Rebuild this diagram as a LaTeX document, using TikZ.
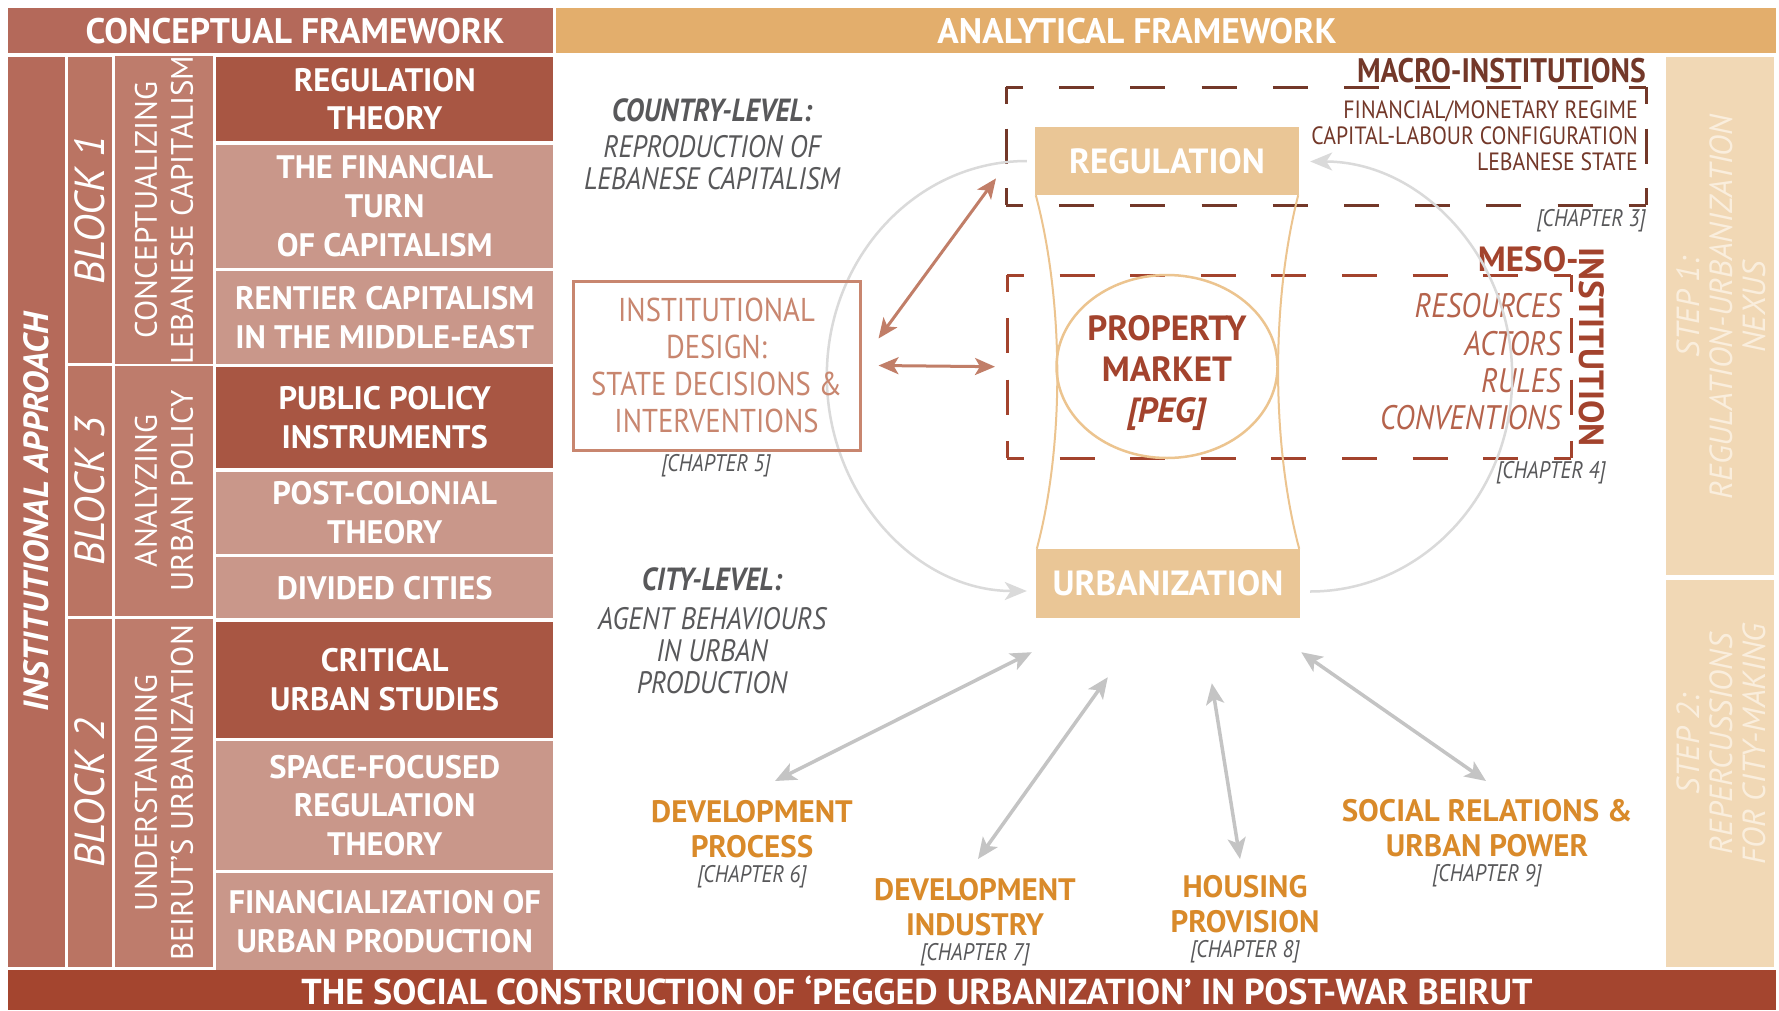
\documentclass[tikz,border=0pt]{standalone}
\usepackage{fontspec}
\setmainfont{PT Sans}
\newfontfamily\narrowfont{PT Sans}[FakeStretch=0.87]
\usepackage{tikz}
\usetikzlibrary{positioning}
\usetikzlibrary{arrows.meta}
\usetikzlibrary{shapes.geometric}

\definecolor{brickhead}{HTML}{B4695A}
\definecolor{brickcol}{HTML}{B56A5A}
\definecolor{brickblock}{HTML}{BA7463}
\definecolor{bricktheme}{HTML}{BE7C6C}
\definecolor{brickdark}{HTML}{A85643}
\definecolor{bricklight}{HTML}{C9978A}
\definecolor{barred}{HTML}{A4452F}
\definecolor{tanhead}{HTML}{E3AE6C}
\definecolor{tanbox}{HTML}{EAC696}
\definecolor{tanstep}{HTML}{F1D8B5}
\definecolor{steptext}{HTML}{FAEEDD}
\definecolor{macrobrown}{HTML}{733829}
\definecolor{mesored}{HTML}{A3432D}
\definecolor{mesolist}{HTML}{B5634C}
\definecolor{salmon}{HTML}{C8866F}
\definecolor{salmonarrow}{HTML}{C17E68}
\definecolor{greytext}{HTML}{58585A}
\definecolor{orangelab}{HTML}{D98A2A}
\definecolor{arrowgrey}{HTML}{C4C4C4}
\definecolor{arcgrey}{HTML}{DADADA}
\definecolor{hourglass}{HTML}{ECC48F}

\begin{document}
\begin{tikzpicture}[x=1pt, y=-1pt,
        every node/.style={inner sep=0pt, align=center},
        bar/.style={rectangle, anchor=north west},
        bartext/.style={text=white, font=\fontsize{35.5}{38}\selectfont\bfseries},
        col/.style={rectangle, rotate=90, text=white},
        approach/.style={col, fill=brickcol, minimum height=57, font=\fontsize{35}{38}\selectfont\bfseries\itshape},
        block/.style={col, fill=brickblock, minimum height=44, font=\fontsize{42}{44}\selectfont\itshape},
        theme/.style={col, fill=bricktheme, minimum height=98, font=\fontsize{31}{36}\selectfont},
        topic/.style={rectangle, text=white, minimum width=337, font=\fontsize{32.5}{38.6}\selectfont\bfseries},
        topicdark/.style={topic, fill=brickdark},
        topiclight/.style={topic, fill=bricklight},
        stepcol/.style={rectangle, fill=tanstep, minimum width=108},
        steptxt/.style={rotate=90, text=steptext, font=\fontsize{32}{33}\selectfont\itshape},
        level/.style={text=greytext, font=\narrowfont\fontsize{31}{32}\selectfont\itshape},
        levelhead/.style={text=greytext, font=\narrowfont\fontsize{32}{34}\selectfont\bfseries\itshape},
        chapter/.style={text=greytext, font=\narrowfont\fontsize{24}{26}\selectfont\itshape},
        design/.style={rectangle, draw=salmon, line width=3pt, text=salmon, font=\narrowfont\fontsize{33}{37}\selectfont},
        hub/.style={rectangle, fill=tanbox, text=white, minimum width=264, font=\fontsize{35}{38}\selectfont\bfseries},
        frame/.style={rectangle, anchor=north west},
        macroline/.style={draw=macrobrown, line width=3pt, dash pattern=on 35pt off #1pt, dash phase=18pt},
        mesoline/.style={draw=mesored, line width=3pt, dash pattern=on 35pt off #1pt, dash phase=18pt},
        macrotitle/.style={text=macrobrown, font=\narrowfont\fontsize{34}{36}\selectfont\bfseries},
        macroitem/.style={text=macrobrown, align=right, font=\narrowfont\fontsize{25}{26}\selectfont},
        mesotitle/.style={text=mesored, font=\fontsize{35}{38}\selectfont\bfseries},
        mesoitem/.style={text=mesolist, align=right, font=\narrowfont\fontsize{34}{37.3}\selectfont\itshape},
        pegring/.style={ellipse, draw=hourglass, line width=2.5pt, minimum width=221, minimum height=183},
        peg/.style={text=mesored, font=\fontsize{35}{41}\selectfont\bfseries},
        outcome/.style={text=orangelab, font=\fontsize{31}{35}\selectfont\bfseries},
        hourline/.style={draw=hourglass, line width=2pt},
        loopline/.style={draw=arcgrey, line width=2.5pt, -{Stealth[length=22pt,width=18pt,inset=6pt]}},
        tiearrow/.style={draw=salmonarrow, line width=3pt, {Stealth[length=20pt,width=17pt,inset=5pt]}-{Stealth[length=20pt,width=17pt,inset=5pt]}},
        linkarrow/.style={draw=arrowgrey, line width=3.5pt, {Stealth[length=21pt,width=18pt,inset=5pt]}-{Stealth[length=21pt,width=18pt,inset=5pt]}}
      ]
        \useasboundingbox[fill=white] (0,0) rectangle (1779,1010);

        % headers
        \node[bar, fill=brickhead, minimum width=545, minimum height=45] (conc) at (8,8) {};
        \node[bartext] (conctext) at (295,31) {CONCEPTUAL FRAMEWORK};
        \node[bar, fill=tanhead, minimum width=1220, minimum height=45] (anal) at (556,8) {};
        \node[bartext] (analtext) at (1137,31) {ANALYTICAL FRAMEWORK};

        % conceptual framework
        \node[approach, minimum width=910] (approach) at (36.5,512) {INSTITUTIONAL APPROACH};
        \node[block, minimum width=306] (block1) at (90,210) {BLOCK 1};
        \node[block, minimum width=250] (block3) at (90,491) {BLOCK 3};
        \node[block, minimum width=348] (block2) at (90,793) {BLOCK 2};
        \node[theme, minimum width=306] (theme1) at (164,210) {CONCEPTUALIZING\\LEBANESE CAPITALISM};
        \node[theme, minimum width=250] (theme3) at (164,491) {ANALYZING\\URBAN POLICY};
        \node[theme, minimum width=348] (theme2) at (164,793) {UNDERSTANDING\\BEIRUT’S URBANIZATION};

        \node[topicdark, minimum height=84, anchor=north west] (regth) at (216,57) {REGULATION\\THEORY};
        \node[topiclight, minimum height=123] (fin)      [below=3pt of regth]    {THE FINANCIAL\\TURN\\OF CAPITALISM};
        \node[topiclight, minimum height=93]  (rent)     [below=3pt of fin]      {RENTIER CAPITALISM\\IN THE MIDDLE-EAST};
        \node[topicdark, minimum height=101]  (ppi)      [below=3pt of rent]     {PUBLIC POLICY\\INSTRUMENTS};
        \node[topiclight, minimum height=82]  (postcol)  [below=3pt of ppi]      {POST-COLONIAL\\THEORY};
        \node[topiclight, minimum height=61]  (divided)  [below=3pt of postcol]  {DIVIDED CITIES};
        \node[topicdark, minimum height=116]  (critical) [below=3pt of divided]  {CRITICAL\\URBAN STUDIES};
        \node[topiclight, minimum height=129] (space)    [below=3pt of critical] {SPACE-FOCUSED\\REGULATION\\THEORY};
        \node[topiclight, minimum height=97]  (finurb)   [below=3pt of space]    {FINANCIALIZATION OF\\URBAN PRODUCTION};

        % bottom bar and steps
        \node[bar, fill=barred, minimum width=1768, minimum height=40] (base) at (8,970) {};
        \node[bartext, font=\fontsize{36}{40}\selectfont\bfseries] (basetext) at (917,990) {THE SOCIAL CONSTRUCTION OF ‘PEGGED URBANIZATION’ IN POST-WAR BEIRUT};
        \node[stepcol, minimum height=518] (step1) at (1720,316) {};
        \node[stepcol, minimum height=387] (step2) at (1720,773.5) {};
        \node[steptxt] (step1txt) at (1721,307) {STEP 1:\\REGULATION-URBANIZATION\\NEXUS};
        \node[steptxt] (step2txt) at (1721,744) {STEP 2:\\REPERCUSSIONS\\FOR CITY-MAKING};

        % institutional frames
        \node[frame, minimum width=640, minimum height=118] (macro) at (1006,87) {};
        \node[frame, minimum width=564, minimum height=183] (meso) at (1007,275) {};
        \draw[macroline=36.2] (macro.north west) -- (macro.north east);
        \draw[macroline=36.2] (macro.south west) -- (macro.south east);
        \draw[macroline=24.5] (macro.north west) -- (macro.south west);
        \draw[macroline=24.5] (macro.north east) -- (macro.south east);
        \draw[mesoline=35.6] (meso.north west) -- (meso.north east);
        \draw[mesoline=35.6] (meso.south west) -- (meso.south east);
        \draw[mesoline=26.3] (meso.north west) -- (meso.south west);
        \draw[mesoline=26.3] (meso.north east) -- (meso.south east);

        \node[macrotitle, anchor=east] (macrotitle) at (1646,71) {MACRO-INSTITUTIONS};
        \node[macroitem, anchor=east] (macroitems) at (1638,136) {FINANCIAL/MONETARY REGIME\\CAPITAL-LABOUR CONFIGURATION\\LEBANESE STATE};
        \node[chapter, anchor=east] (ch3) at (1646,221) {[CHAPTER 3]};
        \node[mesotitle, anchor=east] (mesotitle) at (1579,259) {MESO-};
        \node[mesotitle, rotate=-90] (mesoinst) at (1592,347) {INSTITUTION};
        \node[mesoitem, anchor=east] (mesoitems) at (1561,362) {RESOURCES\\ACTORS\\RULES\\CONVENTIONS};
        \node[chapter] (ch4) at (1551,473) {[CHAPTER 4]};

        % regulation - urbanization nexus
        \node[hub, minimum height=68] (reg) at (1167,161) {REGULATION};
        \node[hub, minimum height=69] (urb) at (1168,583.5) {URBANIZATION};
        \node[pegring] (ring) at (1167,366.5) {};
        \node[peg] (peg) at (1167,373) {PROPERTY\\MARKET\\\textit{[PEG]}};

        \draw[hourline] ([xshift=1]reg.south west) .. controls ([xshift=29,yshift=-105]reg.south west) and ([xshift=29,yshift=105]urb.north west) .. ([xshift=1]urb.north west);
        \draw[hourline] ([xshift=-1]reg.south east) .. controls ([xshift=-28,yshift=-105]reg.south east) and ([xshift=-29,yshift=105]urb.north east) .. ([xshift=-1]urb.north east);

        \draw[loopline] ([xshift=-8]reg.west) arc[start angle=270, end angle=90, x radius=200, y radius=215];
        \draw[loopline] ([xshift=10,yshift=-8]urb.east) arc[start angle=90, end angle=-90, x radius=202, y radius=215];

        % levels
        \node[levelhead] (country) at (712,110) {COUNTRY-LEVEL:};
        \node[level] (countrytxt) at (712,163) {REPRODUCTION OF\\LEBANESE CAPITALISM};
        \node[levelhead] (city) at (712,579) {CITY-LEVEL:};
        \node[level] (citytxt) at (712,651) {AGENT BEHAVIOURS\\IN URBAN\\PRODUCTION};

        \node[design, minimum width=287, minimum height=169] (design) at (716.5,365.5) {INSTITUTIONAL\\DESIGN:\\STATE DECISIONS \&\\INTERVENTIONS};
        \node[chapter] (ch5) at (716,466) {[CHAPTER 5]};
        \draw[tiearrow] ([xshift=17,yshift=27]design.east) -- ([xshift=-10,yshift=27]macro.south west);
        \draw[tiearrow] ([xshift=17]design.east) -- ([xshift=-12]meso.west);

        % repercussions
        \node[outcome] (devproc) at (752,829) {DEVELOPMENT\\PROCESS};
        \node[chapter] (ch6) at (752,877) {[CHAPTER 6]};
        \node[outcome] (devind) at (975,907) {DEVELOPMENT\\INDUSTRY};
        \node[chapter] (ch7) at (975,955) {[CHAPTER 7]};
        \node[outcome] (housing) at (1245,904) {HOUSING\\PROVISION};
        \node[chapter] (ch8) at (1245,952) {[CHAPTER 8]};
        \node[outcome] (social) at (1487,828) {SOCIAL RELATIONS \&\\URBAN POWER};
        \node[chapter] (ch9) at (1487,876) {[CHAPTER 9]};

        \draw[linkarrow] ([xshift=-4,yshift=-34]urb.south west) -- ([xshift=23,yshift=48]devproc.center);
        \draw[linkarrow] ([xshift=72,yshift=-59]urb.south west) -- ([xshift=3,yshift=48]devind.center);
        \draw[linkarrow] ([xshift=176,yshift=-65]urb.south west) -- ([xshift=-5,yshift=45]housing.center);
        \draw[linkarrow] ([xshift=1,yshift=-34]urb.south east) -- ([xshift=-1,yshift=47]social.center);
      \end{tikzpicture}
\end{document}
